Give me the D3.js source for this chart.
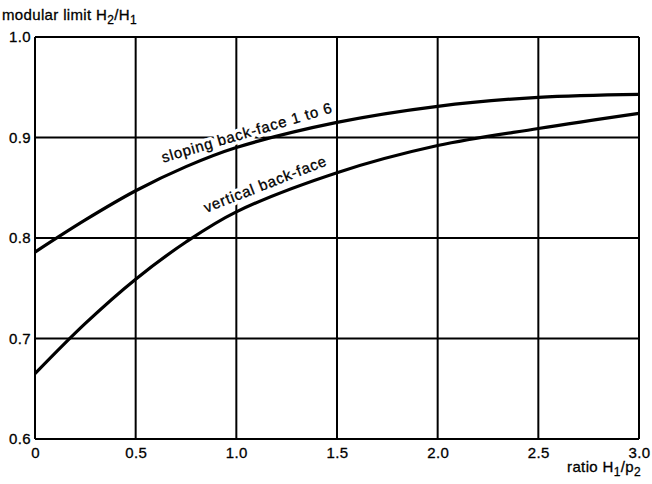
<!DOCTYPE html>
<html>
<head>
<meta charset="utf-8">
<script src="https://cdn.jsdelivr.net/npm/d3@7"></script>
<style>
  body { margin: 0; background: #fff; }
  svg { display: block; font-family: "Liberation Sans", Arial, sans-serif; }
</style>
</head>
<body>
<svg id="chart" width="652" height="484"></svg>
<script>
var width = 652, height = 484;

// ratio H1/p2
var ratio = [0, 0.25, 0.5, 0.75, 1.0, 1.5, 2.0, 2.5, 3.0];
// modular limit, sloping back-face 1 to 6
var sloping = [0.786, 0.818, 0.847, 0.871, 0.890, 0.915, 0.931, 0.940, 0.943];
// modular limit, vertical back-face
var vertical = [0.665, 0.715, 0.759, 0.796, 0.826, 0.865, 0.892, 0.909, 0.924];

var xTicks = [0, 0.5, 1.0, 1.5, 2.0, 2.5, 3.0];
var xTickLabels = ["0", "0.5", "1.0", "1.5", "2.0", "2.5", "3.0"];
var yTicks = [0.6, 0.7, 0.8, 0.9, 1.0];

var svg = d3.select("#chart");

var x = d3.scaleLinear().domain([0, 3]).range([35, 639]);
var y = d3.scaleLinear().domain([0.6, 1.0]).range([439, 37]);

// grid
svg.append("g")
  .selectAll("line.vx")
  .data(xTicks)
  .enter()
  .append("line")
  .attr("x1", function(d){ return x(d); })
  .attr("x2", function(d){ return x(d); })
  .attr("y1", y(0.6))
  .attr("y2", y(1.0))
  .attr("stroke", "#000")
  .attr("stroke-width", 2);

svg.append("g")
  .selectAll("line.hy")
  .data(yTicks)
  .enter()
  .append("line")
  .attr("x1", x(0))
  .attr("x2", x(3))
  .attr("y1", function(d){ return y(d); })
  .attr("y2", function(d){ return y(d); })
  .attr("stroke", "#000")
  .attr("stroke-width", 2);

// axes (labels only, grid drawn above)
var xAxis = svg.append("g")
  .attr("transform", "translate(0," + y(0.6) + ")")
  .call(d3.axisBottom(x).tickValues(xTicks).tickSize(0).tickPadding(8)
    .tickFormat(function(d, i){ return xTickLabels[i]; }));
var yAxis = svg.append("g")
  .attr("transform", "translate(" + x(0) + ",0)")
  .call(d3.axisLeft(y).tickValues(yTicks).tickSize(0).tickPadding(4)
    .tickFormat(d3.format(".1f")));

[xAxis, yAxis].forEach(function(a){
  a.select(".domain").remove();
  a.selectAll("text")
    .attr("font-size", 15)
    .attr("font-family", "'Liberation Sans', Arial, sans-serif")
    .attr("letter-spacing", 0.4)
    .attr("stroke", "#000")
    .attr("stroke-width", 0.3)
    .attr("fill", "#000");
});

// curve labels with white halo so the grid is broken under the text
function curveLabel(txt, xv, yv, angle){
  var g = svg.append("g")
    .attr("transform", "translate(" + x(xv) + "," + y(yv) + ") rotate(" + angle + ")");
  g.append("text")
    .attr("font-size", 15)
    .attr("letter-spacing", 0.8)
    .attr("stroke", "#fff")
    .attr("stroke-width", 7)
    .attr("stroke-linejoin", "round")
    .attr("fill", "#fff")
    .text(txt);
  g.append("text")
    .attr("font-size", 15)
    .attr("letter-spacing", 0.8)
    .attr("stroke", "#000")
    .attr("stroke-width", 0.3)
    .attr("fill", "#000")
    .text(txt);
}
curveLabel("sloping back-face 1 to 6", 0.637, 0.875, -16.5);
curveLabel("vertical back-face", 0.85, 0.825, -21.5);

// curves
var line = d3.line()
  .x(function(d){ return x(d[0]); })
  .y(function(d){ return y(d[1]); })
  .curve(d3.curveCatmullRom);

[sloping, vertical].forEach(function(s){
  svg.append("path")
    .datum(ratio.map(function(r, i){ return [r, s[i]]; }))
    .attr("d", line)
    .attr("fill", "none")
    .attr("stroke", "#000")
    .attr("stroke-width", 3.2);
});

// axis titles
var t1 = svg.append("text")
  .attr("x", 2)
  .attr("y", 20)
  .attr("font-size", 15)
  .attr("letter-spacing", 0.35)
  .attr("stroke", "#000")
  .attr("stroke-width", 0.3)
  .attr("fill", "#000");
t1.append("tspan").text("modular limit H");
t1.append("tspan").attr("dy", 4).attr("font-size", 12).text("2");
t1.append("tspan").attr("dy", -4).text("/H");
t1.append("tspan").attr("dy", 4).attr("font-size", 12).text("1");

var t2 = svg.append("text")
  .attr("x", 641)
  .attr("y", 472)
  .attr("text-anchor", "end")
  .attr("font-size", 15)
  .attr("letter-spacing", 0.35)
  .attr("stroke", "#000")
  .attr("stroke-width", 0.3)
  .attr("fill", "#000");
t2.append("tspan").text("ratio H");
t2.append("tspan").attr("dy", 4).attr("font-size", 12).text("1");
t2.append("tspan").attr("dy", -4).text("/p");
t2.append("tspan").attr("dy", 4).attr("font-size", 12).text("2");
</script>
</body>
</html>
